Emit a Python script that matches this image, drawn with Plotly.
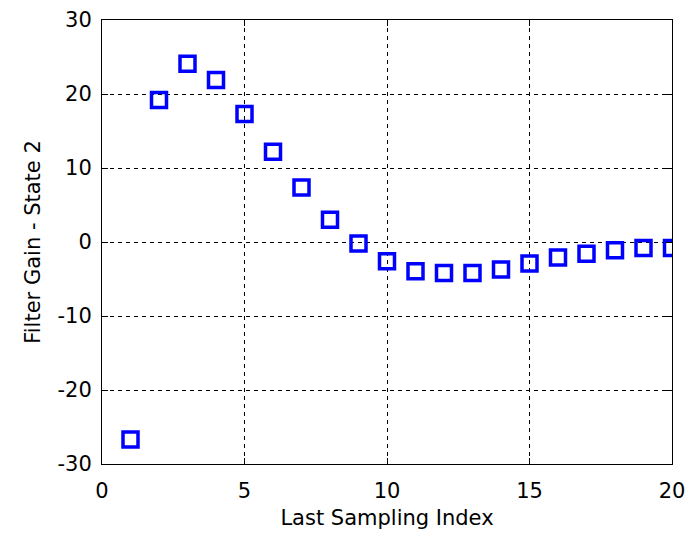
import plotly.graph_objects as go

x_index = list(range(1, 21))
gain_state2 = [-26.7, 19.2, 24.1, 21.9, 17.3, 12.2, 7.35, 3.0, -0.2, -2.6,
               -3.95, -4.2, -4.2, -3.7, -2.9, -2.1, -1.6, -1.1, -0.8, -0.8]
x_ticks = [0, 5, 10, 15, 20]
y_ticks = [-30, -20, -10, 0, 10, 20, 30]
y_ticktext = ["-30", "-20", "-10", "0", "10", "20", "30"]

FONT = "DejaVu Sans, Liberation Sans, Arial"

fig = go.Figure()
fig.add_trace(go.Scatter(
    x=x_index, y=gain_state2, mode="markers",
    marker=dict(symbol="square-open", size=15, color="#0000ff",
                line=dict(width=3.5, color="#0000ff")),
    showlegend=False,
))

axis_common = dict(
    showline=True, linecolor="black", linewidth=1, mirror="allticks",
    ticks="inside", ticklen=6, tickcolor="black",
    showgrid=True, gridcolor="black", gridwidth=1, griddash="4px,4px",
    zeroline=False, tickfont=dict(family=FONT, size=21, color="black"),
    automargin=False,
)
fig.update_xaxes(range=[0, 20], tickvals=x_ticks, ticklabelstandoff=8, **axis_common,
                 title=dict(text="Last Sampling Index", standoff=8,
                            font=dict(family=FONT, size=21, color="black")))
fig.update_yaxes(range=[-30, 30], tickvals=y_ticks, ticktext=y_ticktext,
                 ticklabelstandoff=5, **axis_common,
                 title=dict(text="Filter Gain - State 2", standoff=11,
                            font=dict(family=FONT, size=21, color="black")))
fig.update_layout(
    width=689, height=537,
    margin=dict(l=102, r=17, t=20, b=73),
    plot_bgcolor="white", paper_bgcolor="white",
)
fig.write_html("out.html")
